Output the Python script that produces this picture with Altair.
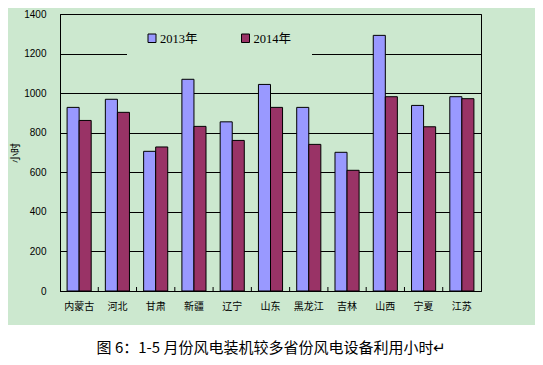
import altair as alt
import pandas as pd

# ---- data ----
provinces = ["内蒙古", "河北", "甘肃", "新疆", "辽宁", "山东", "黑龙江", "吉林", "山西", "宁夏", "江苏"]
hours_2013 = [928, 969, 706, 1070, 855, 1044, 928, 701, 1292, 938, 982]
hours_2014 = [862, 903, 728, 832, 761, 928, 741, 610, 982, 830, 972]
series = ["2013年", "2014年"]
colors = ["#9999FF", "#993366"]
y_ticks = [0, 200, 400, 600, 800, 1000, 1200, 1400]
y_title = "小时"
caption = "图 6：1-5 月份风电装机较多省份风电设备利用小时↵"

rows = []
for p, a, b in zip(provinces, hours_2013, hours_2014):
    rows.append({"province": p, "series": series[0], "hours": a})
    rows.append({"province": p, "series": series[1], "hours": b})
df = pd.DataFrame(rows)

# ---- layout ----
W, H = 421, 277
PL, PT, PR, PB = 52, 6, 54, 66
GREEN = "#CCE8CF"
CJK = "Noto Sans CJK SC"
ONE = alt.Data(values=[{}])
P_IN, P_OUT = 0.37, 0.185

xscale = alt.Scale(domain=provinces, paddingInner=P_IN, paddingOuter=P_OUT)
yscale = alt.Scale(domain=[0, 1400])
step = W / (len(provinces) - P_IN + 2 * P_OUT)
half_gap = step * P_IN / 2

bars = alt.Chart(df).mark_bar(stroke="black", strokeWidth=1).encode(
    x=alt.X("province:N", scale=xscale, title=None),
    xOffset=alt.XOffset("series:N", sort=series),
    y=alt.Y("hours:Q", scale=yscale, title=None, axis=alt.Axis(values=y_ticks, format="d")),
    color=alt.Color("series:N", scale=alt.Scale(domain=series, range=colors), legend=None),
)

tick_df = pd.DataFrame({"province": provinces[1:]})
ticks = alt.Chart(tick_df).mark_rule(color="black", strokeWidth=1, xOffset=-half_gap).encode(
    x=alt.X("province:N", scale=xscale, title=None, bandPosition=0),
    y=alt.value(H),
    y2=alt.value(H - 4),
)

legend_bg = alt.Chart(ONE).mark_rect(fill=GREEN).encode(
    x=alt.value(67), x2=alt.value(252), y=alt.value(9), y2=alt.value(44)
)

legend_layers = []
for i, (name, col) in enumerate(zip(series, colors)):
    x0 = 88 + i * 93.5
    sq = alt.Chart(ONE).mark_rect(fill=col, stroke="black", strokeWidth=1).encode(
        x=alt.value(x0), x2=alt.value(x0 + 8), y=alt.value(20), y2=alt.value(28.5)
    )
    tx = alt.Chart(ONE).mark_text(
        text=name, align="left", baseline="middle", fontSize=12.5,
        font="'Liberation Serif', 'Noto Sans CJK SC'", color="black",
    ).encode(x=alt.value(x0 + 12), y=alt.value(24.5))
    legend_layers += [sq, tx]

ytitle = alt.Chart(ONE).mark_text(
    text=y_title, angle=270, fontSize=10, font=CJK, color="black",
    align="center", baseline="middle",
).encode(x=alt.value(-44), y=alt.value(139))

white = alt.Chart(ONE).mark_rect(fill="white").encode(
    x=alt.value(-PL), x2=alt.value(W + PR), y=alt.value(311), y2=alt.value(H + PB)
)

cap = alt.Chart(ONE).mark_text(
    text=caption, fontSize=15, font=CJK, color="black",
    align="center", baseline="middle",
).encode(x=alt.value((PL + W + PR) / 2 - PL), y=alt.value(334))

chart = alt.layer(bars, ticks, legend_bg, *legend_layers, ytitle, white, cap).properties(
    width=W, height=H,
    padding={"left": PL, "top": PT, "right": PR, "bottom": PB},
    autosize=alt.AutoSizeParams(type="none"),
    background=GREEN,
).configure_view(
    stroke="black", strokeWidth=1
).configure_axis(
    labelColor="black", domainColor="black", gridColor="black", tickColor="black",
    domainWidth=1, gridWidth=1, gridOpacity=1,
).configure_axisX(
    labelFont=CJK, labelFontSize=10, labelPadding=10, labelAngle=0, ticks=False, grid=False,
).configure_axisY(
    labelFont="Liberation Sans", labelFontSize=10, labelPadding=14, ticks=False, grid=True,
)

chart.save("out.html", embed_options={"renderer": "svg", "actions": False})
